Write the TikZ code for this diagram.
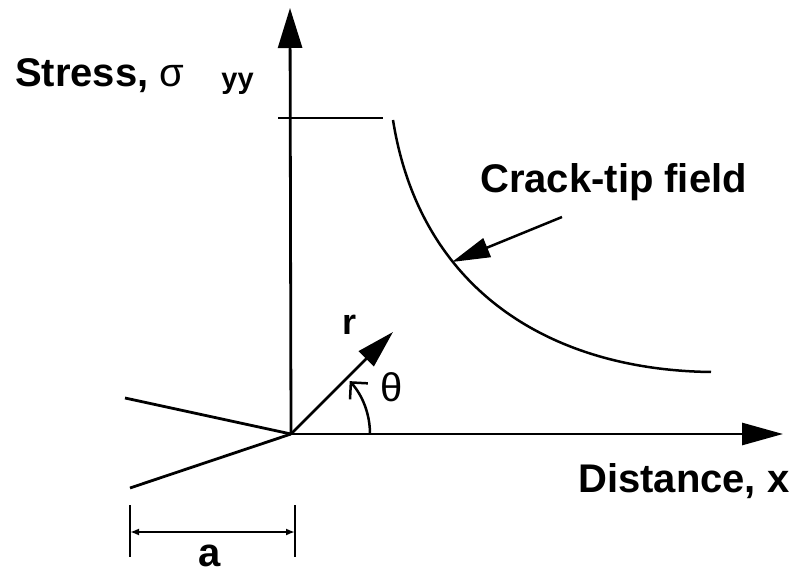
\documentclass[tikz,border=0pt]{standalone}
\usepackage{fontspec}
\setmainfont{Liberation Sans}
\usetikzlibrary{arrows.meta}
\tikzset{
  axisline/.style={line width=2.8pt},
  thinline/.style={line width=2.5pt},
  bigtip/.style={-{Triangle[length=40pt,width=24pt]}},
  midtip/.style={-{Triangle[length=38pt,width=20pt]}},
  dimtip/.style={{Latex[length=9pt,width=7pt]}-{Latex[length=9pt,width=7pt]}},
  lbl/.style={inner sep=0pt, font=\fontsize{40}{48}\selectfont\bfseries},
  greek/.style={inner sep=0pt, font=\fontsize{40}{48}\selectfont},
}
\begin{document}
\begin{tikzpicture}[x=1pt,y=1pt]
\useasboundingbox (0,0) rectangle (798,579);
% key points
\coordinate (O) at (291,145);
\coordinate (ytip) at (290,571);
\coordinate (xtip) at (783,145);
\coordinate (lvlL) at (278,461);
\coordinate (lvlR) at (383,461);
\coordinate (cS) at (393,459);
\coordinate (cE) at (711,207);
\coordinate (annS) at (562,362);
\coordinate (annE) at (452,317);
\coordinate (rtip) at (393,247);
\coordinate (fl1) at (125,181);
\coordinate (fl2) at (130,91);
\coordinate (dL) at (130,47);
\coordinate (dR) at (295,47);
\coordinate (tL1) at (130,74);
\coordinate (tL2) at (130,22);
\coordinate (tR1) at (295,74);
\coordinate (tR2) at (295,22);
% axes
\draw[axisline,bigtip] (O) -- (ytip);
\draw[axisline,-{Triangle[length=41pt,width=22pt]}] (O) -- (xtip);
% level line
\draw[axisline] (lvlL) -- (lvlR);
% crack-tip field curve
\draw[thinline] (cS) .. controls (420,289) and (550,209) .. (cE);
% annotation arrow
\draw[thinline,midtip] (annS) -- (annE);
% crack flanks
\draw[axisline] (fl1) -- (O);
\draw[axisline] (fl2) -- (O);
% r vector
\draw[axisline,-{Triangle[length=38pt,width=21pt]}] (O) -- (rtip);
% theta arc
\draw[thinline,-{Straight Barb[length=12pt,width=24pt]}] ([shift={(0:79)}]O) arc[start angle=0,end angle=42,radius=79];
% dimension a
\draw[thinline] (tL1) -- (tL2);
\draw[thinline] (tR1) -- (tR2);
\draw[thinline,dimtip] (dL) -- (dR);
% labels
\node[lbl,anchor=base west] (stress) at (15,492) {Stress,\ {\mdseries σ}\hspace{37pt}{\fontsize{29}{34}\selectfont\raisebox{-2pt}{yy}}};
\node[lbl,anchor=base west] (dist) at (578,87) {Distance, x};
\node[lbl,anchor=base west] (ctf) at (480,386) {Crack-tip field};
\node[lbl,anchor=base west,font=\fontsize{36}{42}\selectfont\bfseries] (rl) at (342,244) {r};
\node[greek] (th) at (392,192) {θ};
\node[lbl,anchor=base] (al) at (210,13) {a};
\end{tikzpicture}
\end{document}
